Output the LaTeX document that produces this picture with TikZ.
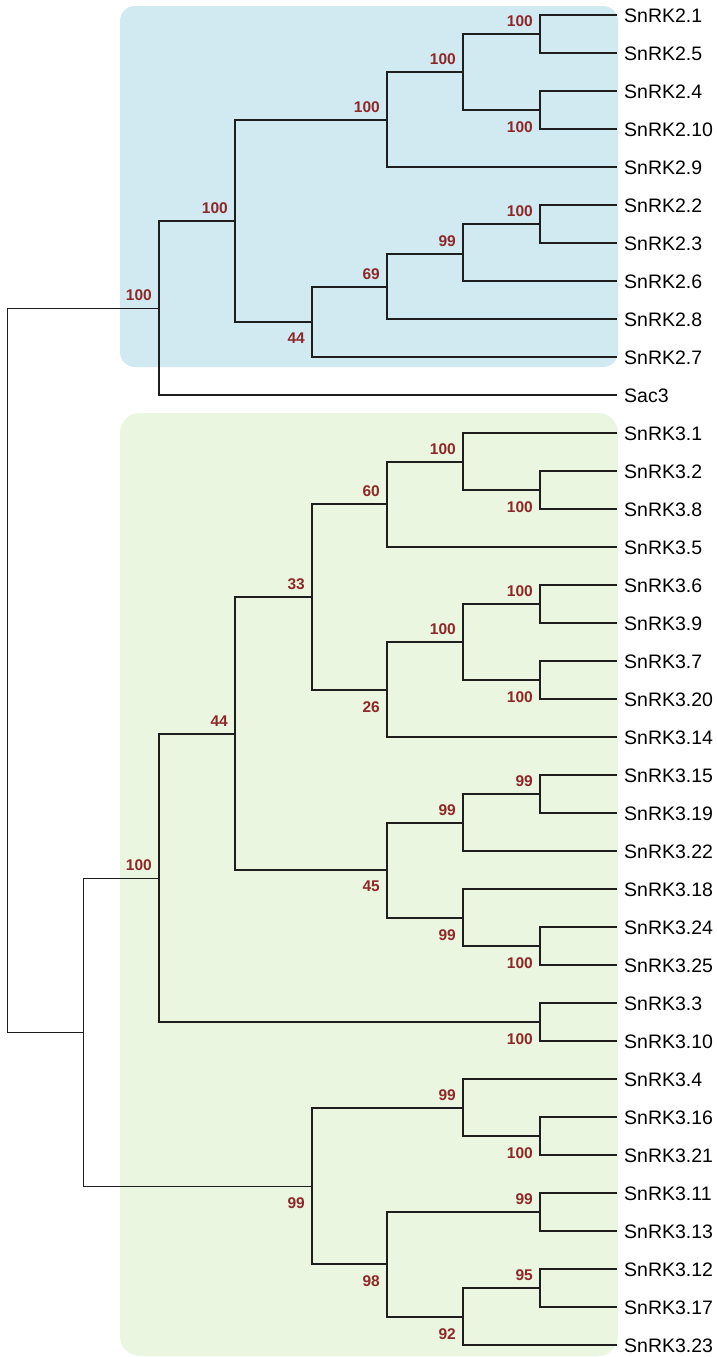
\documentclass[tikz,border=0pt]{standalone}
\usepackage{fontspec}
\setmainfont{Liberation Sans}
\definecolor{boxblue}{HTML}{D1E9F1}
\definecolor{boxgreen}{HTML}{EAF6DF}
\definecolor{bsred}{HTML}{8E2828}
\definecolor{edgecol}{HTML}{1E1E1E}
\tikzset{
  edge/.style={draw=edgecol, line width=1.5pt},
  thinedge/.style={draw=edgecol, line width=1.0pt},
  leaf/.style={anchor=west, inner xsep=7pt, inner ysep=0pt, text height=14pt, text depth=0pt,
    font=\fontsize{19.5}{20}\selectfont},
  laba/.style={anchor=south east, inner sep=0pt, xshift=-7pt, yshift=7pt, text=bsred,
    font=\fontsize{15.5}{16}\selectfont\bfseries},
  labb/.style={anchor=north east, inner sep=0pt, xshift=-7pt, yshift=-11pt, text=bsred,
    font=\fontsize{15.5}{16}\selectfont\bfseries},
}
\newcommand\tnode[5]{\coordinate (#1) at (#2,#3); \node[#4] (#1-l) at (#1) {#5};}
\newcommand\tleaf[3]{\node[leaf] (#1) at (617,#2) {#3};}
\begin{document}
\begin{tikzpicture}[x=1pt,y=-1pt]
\useasboundingbox (0,0) rectangle (717,1357);
% background boxes
\fill[boxblue, rounded corners=15pt] (120,6) rectangle (618,367);
\fill[boxgreen, rounded corners=20pt] (120,413) rectangle (618,1356);
% leaves
\tleaf{a21}{15}{SnRK2.1}
\tleaf{a25}{53}{SnRK2.5}
\tleaf{a24}{91}{SnRK2.4}
\tleaf{a210}{129}{SnRK2.10}
\tleaf{a29}{167}{SnRK2.9}
\tleaf{a22}{205}{SnRK2.2}
\tleaf{a23}{243}{SnRK2.3}
\tleaf{a26}{281}{SnRK2.6}
\tleaf{a28}{319}{SnRK2.8}
\tleaf{a27}{357}{SnRK2.7}
\tleaf{sac}{395}{Sac3}
\tleaf{b31}{433}{SnRK3.1}
\tleaf{b32}{471}{SnRK3.2}
\tleaf{b38}{509}{SnRK3.8}
\tleaf{b35}{547}{SnRK3.5}
\tleaf{b36}{585}{SnRK3.6}
\tleaf{b39}{623}{SnRK3.9}
\tleaf{b37}{661}{SnRK3.7}
\tleaf{b320}{699}{SnRK3.20}
\tleaf{b314}{737}{SnRK3.14}
\tleaf{b315}{775}{SnRK3.15}
\tleaf{b319}{813}{SnRK3.19}
\tleaf{b322}{851}{SnRK3.22}
\tleaf{b318}{889}{SnRK3.18}
\tleaf{b324}{927}{SnRK3.24}
\tleaf{b325}{965}{SnRK3.25}
\tleaf{b33}{1003}{SnRK3.3}
\tleaf{b310}{1041}{SnRK3.10}
\tleaf{b34}{1079}{SnRK3.4}
\tleaf{b316}{1117}{SnRK3.16}
\tleaf{b321}{1155}{SnRK3.21}
\tleaf{b311}{1193}{SnRK3.11}
\tleaf{b313}{1231}{SnRK3.13}
\tleaf{b312}{1269}{SnRK3.12}
\tleaf{b317}{1307}{SnRK3.17}
\tleaf{b323}{1345}{SnRK3.23}
% internal nodes
\coordinate (R0) at (7,670);
\coordinate (n3) at (83,1032);
\tnode{n2}{159}{308}{laba}{100}
\tnode{A}{235}{221}{laba}{100}
\tnode{B}{387}{120}{laba}{100}
\tnode{D}{463}{72}{laba}{100}
\tnode{E}{540}{34}{laba}{100}
\tnode{F}{540}{110}{labb}{100}
\tnode{C}{312}{322}{labb}{44}
\tnode{G}{387}{287}{laba}{69}
\tnode{H}{463}{254}{laba}{99}
\tnode{I}{540}{224}{laba}{100}
\tnode{J}{159}{878}{laba}{100}
\tnode{L}{235}{734}{laba}{44}
\tnode{N}{312}{597}{laba}{33}
\tnode{P}{387}{504}{laba}{60}
\tnode{R}{463}{462}{laba}{100}
\tnode{S}{540}{490}{labb}{100}
\tnode{Q}{387}{690}{labb}{26}
\tnode{T}{463}{642}{laba}{100}
\tnode{U}{540}{604}{laba}{100}
\tnode{V}{540}{680}{labb}{100}
\tnode{O}{387}{870}{labb}{45}
\tnode{W}{463}{823}{laba}{99}
\tnode{Y}{540}{794}{laba}{99}
\tnode{X}{463}{918}{labb}{99}
\tnode{Z}{540}{946}{labb}{100}
\tnode{M}{540}{1022}{labb}{100}
\tnode{K}{312}{1186}{labb}{99}
\tnode{AA}{463}{1108}{laba}{99}
\tnode{AC}{540}{1136}{labb}{100}
\tnode{AB}{387}{1264}{labb}{98}
\tnode{AD}{540}{1212}{laba}{99}
\tnode{AE}{463}{1317}{labb}{92}
\tnode{AF}{540}{1288}{laba}{95}
% edges
\draw[thinedge] (R0) |- (n2);
\draw[thinedge] (R0) |- (n3);
\draw[thinedge] (n3) |- (J);
\draw[thinedge] (n3) |- (K);
\draw[edge] (n2) |- (A);
\draw[edge] (n2) |- (sac.west);
\draw[edge] (A) |- (B);
\draw[edge] (A) |- (C);
\draw[edge] (B) |- (D);
\draw[edge] (B) |- (a29.west);
\draw[edge] (D) |- (E);
\draw[edge] (D) |- (F);
\draw[edge] (E) |- (a21.west);
\draw[edge] (E) |- (a25.west);
\draw[edge] (F) |- (a24.west);
\draw[edge] (F) |- (a210.west);
\draw[edge] (C) |- (G);
\draw[edge] (C) |- (a27.west);
\draw[edge] (G) |- (H);
\draw[edge] (G) |- (a28.west);
\draw[edge] (H) |- (I);
\draw[edge] (H) |- (a26.west);
\draw[edge] (I) |- (a22.west);
\draw[edge] (I) |- (a23.west);
\draw[edge] (J) |- (L);
\draw[edge] (J) |- (M);
\draw[edge] (L) |- (N);
\draw[edge] (L) |- (O);
\draw[edge] (N) |- (P);
\draw[edge] (N) |- (Q);
\draw[edge] (P) |- (R);
\draw[edge] (P) |- (b35.west);
\draw[edge] (R) |- (b31.west);
\draw[edge] (R) |- (S);
\draw[edge] (S) |- (b32.west);
\draw[edge] (S) |- (b38.west);
\draw[edge] (Q) |- (T);
\draw[edge] (Q) |- (b314.west);
\draw[edge] (T) |- (U);
\draw[edge] (T) |- (V);
\draw[edge] (U) |- (b36.west);
\draw[edge] (U) |- (b39.west);
\draw[edge] (V) |- (b37.west);
\draw[edge] (V) |- (b320.west);
\draw[edge] (O) |- (W);
\draw[edge] (O) |- (X);
\draw[edge] (W) |- (Y);
\draw[edge] (W) |- (b322.west);
\draw[edge] (Y) |- (b315.west);
\draw[edge] (Y) |- (b319.west);
\draw[edge] (X) |- (b318.west);
\draw[edge] (X) |- (Z);
\draw[edge] (Z) |- (b324.west);
\draw[edge] (Z) |- (b325.west);
\draw[edge] (M) |- (b33.west);
\draw[edge] (M) |- (b310.west);
\draw[edge] (K) |- (AA);
\draw[edge] (K) |- (AB);
\draw[edge] (AA) |- (b34.west);
\draw[edge] (AA) |- (AC);
\draw[edge] (AC) |- (b316.west);
\draw[edge] (AC) |- (b321.west);
\draw[edge] (AB) |- (AD);
\draw[edge] (AB) |- (AE);
\draw[edge] (AD) |- (b311.west);
\draw[edge] (AD) |- (b313.west);
\draw[edge] (AE) |- (AF);
\draw[edge] (AE) |- (b323.west);
\draw[edge] (AF) |- (b312.west);
\draw[edge] (AF) |- (b317.west);
\end{tikzpicture}
\end{document}
